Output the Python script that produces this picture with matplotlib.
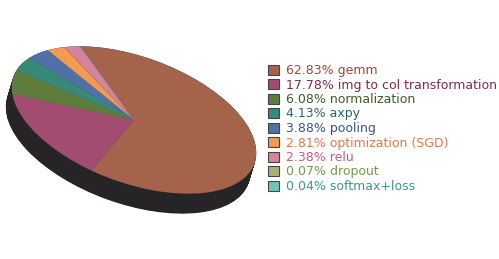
import matplotlib
matplotlib.use("Agg")
from matplotlib import pyplot as plt
from matplotlib.patches import Ellipse
from matplotlib.transforms import Affine2D

# data
names = ["gemm", "img to col transformation", "normalization", "axpy", "pooling",
         "optimization (SGD)", "relu", "dropout", "softmax+loss"]
shares = [62.83, 17.78, 6.08, 4.13, 3.88, 2.81, 2.38, 0.07, 0.04]
colors = ["#a6634b", "#a24c72", "#5f7d3a", "#378a78", "#4e71a8",
          "#f59a52", "#d4849c", "#a9b276", "#72c4bb"]
text_colors = ["#9a4a35", "#7c2b52", "#3f5c24", "#246b5b", "#33558a",
               "#e0774e", "#c05e80", "#78984d", "#3a9a88"]

labels = ["%.2f%% %s" % (s, n) for s, n in zip(shares, names)]

W, H = 499, 259
fig = plt.figure(figsize=(W / 100, H / 100), dpi=100)
ax = fig.add_axes([0, 0, 1, 1])

# tilted ellipse: centre, semi axes, rotation (pixels, y up)
cx, cy = 134, H - 120
sa, sb, rot = 128, 63, -20
depth, shift = 20, -6

# dark side of the disc
n = 40
for k in range(n + 1):
    t = k / n
    e = Ellipse((cx + shift * t, cy - depth * t), 2 * sa, 2 * sb, angle=rot,
                facecolor="#262427", edgecolor="none", zorder=1)
    ax.add_patch(e)

wedges, _ = ax.pie(shares, colors=colors, startangle=126, counterclock=False,
                   wedgeprops=dict(linewidth=0.3, edgecolor=(0.5, 0.5, 0.5, 0.3)))
tr = Affine2D().scale(sa, sb).rotate_deg(rot).translate(cx, cy) + ax.transData
for w in wedges:
    w.set_transform(tr)
    w.set_zorder(2)

ax.set_aspect("auto")
ax.set_xlim(0, W)
ax.set_ylim(0, H)
ax.axis("off")

leg = ax.legend(wedges, labels, loc="upper left", bbox_to_anchor=(268 / W, 1 - 64 / H),
                frameon=False, fontsize=9, handlelength=0.85, handleheight=0.85,
                handletextpad=0.55, labelspacing=0.12, borderaxespad=0, borderpad=0)
for txt, c in zip(leg.get_texts(), text_colors):
    txt.set_color(c)
for h in leg.legend_handles:
    h.set_edgecolor("#444444")
    h.set_linewidth(0.8)

fig.savefig("out.png", dpi=100)
